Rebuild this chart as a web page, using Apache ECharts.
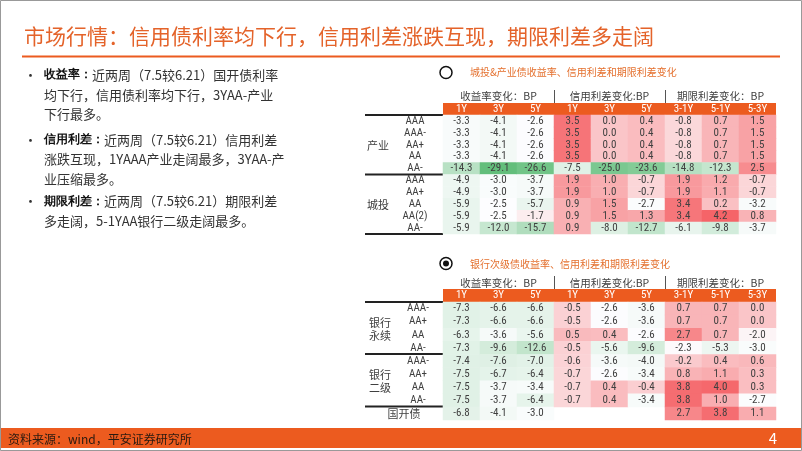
<!DOCTYPE html>
<html><head><meta charset="utf-8">
<script src="https://cdn.jsdelivr.net/npm/echarts@6/dist/echarts.min.js"></script>
<style>html,body{margin:0;padding:0;background:#fff}#c{width:802px;height:451px}</style>
</head><body><div id="c"></div>
<script>
// ---------- data ----------
const titleText = '市场行情：信用债利率均下行，信用利差涨跌互现，期限利差多走阔';
const sourceText = '资料来源：wind，平安证券研究所';
const pageNo = '4';
const colLabels = ['1Y','3Y','5Y','1Y','3Y','5Y','3-1Y','5-1Y','5-3Y'];
const groupLabels = ['收益率变化：BP','信用利差变化:BP','期限利差变化：BP'];
const t1Title = '城投&产业债收益率、信用利差和期限利差变化';
const t2Title = '银行次级债收益率、信用利差和期限利差变化';

// table 1 rows
const t1Ratings = ['AAA','AAA-','AA+','AA','AA-','AAA','AA+','AA','AA(2)','AA-'];
const t1Yield1Y  = [-3.3,-3.3,-3.3,-3.3,-14.3,-4.9,-4.9,-5.9,-5.9,-5.9];
const t1Yield3Y  = [-4.1,-4.1,-4.1,-4.1,-29.1,-3.0,-3.0,-2.5,-2.5,-12.0];
const t1Yield5Y  = [-2.6,-2.6,-2.6,-2.6,-26.6,-3.7,-3.7,-5.7,-1.7,-15.7];
const t1Credit1Y = [3.5,3.5,3.5,3.5,-7.5,1.9,1.9,0.9,0.9,0.9];
const t1Credit3Y = [0.0,0.0,0.0,0.0,-25.0,1.0,1.0,1.5,1.5,-8.0];
const t1Credit5Y = [0.4,0.4,0.4,0.4,-23.6,-0.7,-0.7,-2.7,1.3,-12.7];
const t1Term31   = [-0.8,-0.8,-0.8,-0.8,-14.8,1.9,1.9,3.4,3.4,-6.1];
const t1Term51   = [0.7,0.7,0.7,0.7,-12.3,1.2,1.1,0.2,4.2,-9.8];
const t1Term53   = [1.5,1.5,1.5,1.5,2.5,-0.7,-0.7,-3.2,0.8,-3.7];

// table 2 rows
const t2Ratings = ['AAA-','AA+','AA','AA-','AAA-','AA+','AA','AA-',''];
const t2Yield1Y  = [-7.3,-7.3,-6.3,-7.3,-7.4,-7.5,-7.5,-7.5,-6.8];
const t2Yield3Y  = [-6.6,-6.6,-3.6,-9.6,-7.6,-6.7,-3.7,-3.7,-4.1];
const t2Yield5Y  = [-6.6,-6.6,-5.6,-12.6,-7.0,-6.4,-3.4,-6.4,-3.0];
const t2Credit1Y = [-0.5,-0.5,0.5,-0.5,-0.6,-0.7,-0.7,-0.7,null];
const t2Credit3Y = [-2.6,-2.6,0.4,-5.6,-3.6,-2.6,0.4,0.4,null];
const t2Credit5Y = [-3.6,-3.6,-2.6,-9.6,-4.0,-3.4,-0.4,-3.4,null];
const t2Term31   = [0.7,0.7,2.7,-2.3,-0.2,0.8,3.8,3.8,2.7];
const t2Term51   = [0.7,0.7,0.7,-5.3,0.4,1.1,4.0,1.0,3.8];
const t2Term53   = [0.0,0.0,-2.0,-3.0,0.6,0.3,0.3,-2.7,1.1];

const bulletLines = [
  ['收益率：','近两周（7.5较6.21）国开债利率'],
  ['','均下行，信用债利率均下行，3YAA-产业'],
  ['','下行最多。'],
  ['信用利差：','近两周（7.5较6.21）信用利差'],
  ['','涨跌互现，1YAAA产业走阔最多，3YAA-产'],
  ['','业压缩最多。'],
  ['期限利差：','近两周（7.5较6.21）期限利差'],
  ['','多走阔，5-1YAA银行二级走阔最多。']
];

// ---------- build ----------
const t1Cols = [t1Yield1Y,t1Yield3Y,t1Yield5Y,t1Credit1Y,t1Credit3Y,t1Credit5Y,t1Term31,t1Term51,t1Term53];
const t2Cols = [t2Yield1Y,t2Yield3Y,t2Yield5Y,t2Credit1Y,t2Credit3Y,t2Credit5Y,t2Term31,t2Term51,t2Term53];
function toCells(cols){
  const out=[];
  cols.forEach((col,c)=>col.forEach((v,r)=>{ if(v!==null) out.push([c,r,v]); }));
  return out;
}
const d1 = toCells(t1Cols), d2 = toCells(t2Cols);
const allVals = d1.concat(d2).map(d=>d[2]);
const vMin = Math.min(...allVals), vMax = Math.max(...allVals);
const mid = -2.4;
const GREEN=[99,190,123], WHITE=[253,253,255], RED=[245,100,104];
function mix(a,b,t){return 'rgb('+[0,1,2].map(i=>Math.round(a[i]+(b[i]-a[i])*t)).join(',')+')';}
const stops=[]; const N=120;
for(let i=0;i<=N;i++){
  const v=vMin+(vMax-vMin)*i/N;
  stops.push(v<mid? mix(GREEN,WHITE,(v-vMin)/(mid-vMin)) : mix(WHITE,RED,(v-mid)/(vMax-mid)));
}

const ORANGE='#EC5B1F';
const TXT='#404040';
const NUMFONT="'Liberation Sans Narrow','Roboto Condensed','Liberation Sans',sans-serif";
const CJK="'Noto Sans CJK SC','Noto Sans',sans-serif";

const G1 = {left:443, top:115, width:333, height:119};
const G2 = {left:443, top:302, width:333, height:118};

function xAx(gi, margin){
  return {gridIndex:gi, type:'category', data:colLabels, position:'top', z:10,
    axisLine:{show:false}, axisTick:{show:false}, splitLine:{show:false},
    axisLabel:{color:'#fff', fontSize:11, fontFamily:NUMFONT, margin:margin, verticalAlign:'middle', interval:0}};
}
function yAx(gi, data, margin){
  return {gridIndex:gi, type:'category', data:data, inverse:true,
    axisLine:{show:false}, axisTick:{show:false}, splitLine:{show:false},
    axisLabel:{color:TXT, fontSize:11, fontFamily:NUMFONT, margin:margin, align:'center', interval:0}};
}
function hm(i){
  return {type:'heatmap', xAxisIndex:i, yAxisIndex:i, data:i===0?d1:d2, emphasis:{disabled:true},
    label:{show:true, color:TXT, fontSize:11, fontFamily:NUMFONT, formatter:p=>p.value[2].toFixed(1)}};
}

const graphics = [];
// border
graphics.push({type:'rect', shape:{x:0.5,y:0.5,width:801,height:450}, style:{fill:'none', stroke:'#999', lineWidth:1}, silent:true});
// title
graphics.push({type:'text', x:24, y:36, style:{text:titleText, fill:'#E4632A', font:'21px '+CJK, textVerticalAlign:'middle'}});
graphics.push({type:'rect', shape:{x:22,y:55.5,width:758,height:2}, style:{fill:ORANGE}});
// footer
graphics.push({type:'rect', shape:{x:1,y:428,width:800,height:20}, style:{fill:ORANGE}});
graphics.push({type:'text', x:8, y:439, style:{text:sourceText, fill:'#2a1a10', font:'12px '+CJK, textVerticalAlign:'middle'}});
graphics.push({type:'text', x:773, y:438, style:{text:pageNo, fill:'#fff', font:'15px '+CJK, textVerticalAlign:'middle', textAlign:'center'}});
// bullets
const lineY = [75,95,114.5,140,159.5,179,201.5,221.5];
bulletLines.forEach((ln,i)=>{
  if(ln[0]) graphics.push({type:'text', x:24, y:lineY[i], style:{text:'•', fill:'#333', font:'13px '+CJK, textVerticalAlign:'middle'}});
  graphics.push({type:'text', x:44, y:lineY[i], style:{
    text:(ln[0]?'{b|'+ln[0]+'}':'')+ln[1], fill:'#333', font:'13px '+CJK, textVerticalAlign:'middle',
    rich:{b:{fontWeight:'bold', fill:'#111', font:'bold 13px '+CJK}}}});
});
// table captions
graphics.push({type:'circle', shape:{cx:446,cy:72.5,r:6}, style:{fill:'#fff', stroke:'#111', lineWidth:1.5}});
graphics.push({type:'text', x:470, y:72, style:{text:t1Title, fill:'#E4702E', font:'10px '+CJK, textVerticalAlign:'middle'}});
graphics.push({type:'circle', shape:{cx:446,cy:263.5,r:6}, style:{fill:'#fff', stroke:'#111', lineWidth:1.5}});
graphics.push({type:'circle', shape:{cx:446,cy:263.5,r:3}, style:{fill:'#111'}});
graphics.push({type:'text', x:470, y:264, style:{text:t2Title, fill:'#E4702E', font:'10px '+CJK, textVerticalAlign:'middle'}});
// group headers
function groupHead(y, yl0, yl1){
  const cx=[498.5,609.5,720.5];
  groupLabels.forEach((g,i)=>graphics.push({type:'text', x:cx[i], y:y, style:{text:g, fill:TXT, font:'10.5px '+CJK, textAlign:'center', textVerticalAlign:'middle'}}));
  [554.5,665.5].forEach(x=>graphics.push({type:'line', shape:{x1:x,y1:yl0,x2:x,y2:yl1}, style:{stroke:'#555', lineWidth:1}}));
}
groupHead(96.5, 90, 103);
groupHead(283, 276, 289);
// orange header rows
graphics.push({type:'rect', z:-1, shape:{x:443,y:103,width:333,height:12}, style:{fill:ORANGE}});
graphics.push({type:'rect', z:-1, shape:{x:443,y:289,width:333,height:13}, style:{fill:ORANGE}});
// separator lines
[115,174.5,234].forEach(y=>graphics.push({type:'rect', shape:{x:365,y:y-1,width:78,height:2}, style:{fill:'#222'}}));
[302,354,406.5].forEach(y=>graphics.push({type:'rect', shape:{x:365,y:y-1,width:78,height:2}, style:{fill:'#222'}}));
// group row labels
const grp = [
  {t:'产业', x:378, y:145.5}, {t:'城投', x:378, y:205},
  {t:'银行', x:380, y:322.5}, {t:'永续', x:380, y:335.5},
  {t:'银行', x:380, y:375}, {t:'二级', x:380, y:388},
  {t:'国开债', x:404, y:414}
];
grp.forEach(g=>graphics.push({type:'text', x:g.x, y:g.y, style:{text:g.t, fill:TXT, font:'11px '+CJK, textAlign:'center', textVerticalAlign:'middle'}}));

const option = {
  backgroundColor:'#fff',
  animation:false,
  grid:[G1,G2],
  xAxis:[xAx(0,6), xAx(1,6.5)],
  yAxis:[yAx(0,t1Ratings,28), yAx(1,t2Ratings,25)],
  visualMap:{type:'continuous', show:false, min:vMin, max:vMax, dimension:2, seriesIndex:[0,1], inRange:{color:stops}},
  series:[hm(0), hm(1)],
  graphic:graphics
};
const chart = echarts.init(document.getElementById('c'), null, {renderer:'canvas'});
chart.setOption(option);
</script></body></html>
